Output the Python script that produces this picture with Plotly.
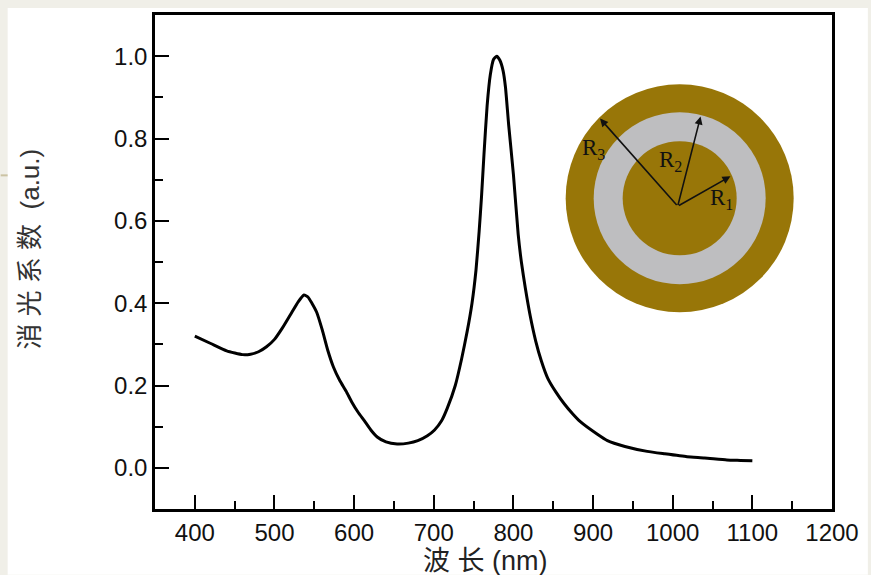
import plotly.graph_objects as go

# ---- data ----
wavelength = [400, 420, 440, 460, 470, 480, 490, 500, 510, 520, 530, 537, 542, 547,
              553, 560, 567, 574, 582, 590, 597, 605, 613, 621, 629, 640, 654, 668,
              680, 692, 701, 710, 717, 727, 735, 742, 748, 753, 757, 760, 763, 767,
              771, 775, 779, 783, 787, 790, 794, 800, 806, 810, 815, 821, 828, 835,
              843, 853, 864, 874, 884, 905, 918, 940, 968, 990, 1018, 1040, 1068,
              1085, 1100]
extinction = [0.320, 0.302, 0.284, 0.275, 0.276, 0.282, 0.294, 0.312, 0.340, 0.372,
              0.404, 0.420, 0.415, 0.400, 0.378, 0.335, 0.285, 0.245, 0.212, 0.186,
              0.160, 0.135, 0.114, 0.092, 0.075, 0.063, 0.058, 0.060, 0.066, 0.078,
              0.092, 0.115, 0.145, 0.200, 0.265, 0.332, 0.400, 0.480, 0.575, 0.660,
              0.760, 0.880, 0.955, 0.992, 1.000, 0.990, 0.965, 0.925, 0.834, 0.713,
              0.567, 0.500, 0.436, 0.370, 0.308, 0.260, 0.218, 0.185, 0.155, 0.132,
              0.112, 0.082, 0.066, 0.052, 0.040, 0.034, 0.027, 0.024, 0.019, 0.018,
              0.017]
x_ticks = [400, 500, 600, 700, 800, 900, 1000, 1100, 1200]
y_ticks = [0.0, 0.2, 0.4, 0.6, 0.8, 1.0]
x_title = "波 长 (nm)"
y_title = "消 光 系 数 \u00a0(a.u.)"

# ---- layout geometry (pixels) ----
W, H = 871, 575
L, R, T, B = 155, 835, 13, 509


def pp(x, y):
    return (x - L) / (R - L), (B - y) / (B - T)


fig = go.Figure()
fig.add_trace(go.Scatter(x=wavelength, y=extinction, mode="lines",
                         line=dict(color="black", width=3, shape="spline", smoothing=0.5),
                         showlegend=False, hoverinfo="skip"))

shapes = []
# white slide panel over beige background
x0, y0 = pp(7, 6)
x1, y1 = pp(871, 575)
shapes.append(dict(type="rect", xref="paper", yref="paper", x0=x0, x1=x1, y0=y1, y1=y0,
                   fillcolor="white", line=dict(width=0), layer="below"))
lx0, ly = pp(0, 174)
lx1, _ = pp(7, 174)
shapes.append(dict(type="line", xref="paper", yref="paper", x0=lx0, x1=lx1, y0=ly, y1=ly,
                   line=dict(color="#CBC3A3", width=2), layer="below"))

# inset: concentric circles
cx, cy = pp(682, 197)
for r, col in [(114, "#987608"), (86, "#BEBEC0"), (57, "#987608")]:
    shapes.append(dict(type="circle", xref="paper", yref="paper",
                       xsizemode="pixel", ysizemode="pixel", xanchor=cx, yanchor=cy,
                       x0=-r, x1=r, y0=-r, y1=r, fillcolor=col, line=dict(width=0)))

annotations = []
origin = (680, 205)
for tip in [(602, 117), (703, 115), (733, 175)]:
    ax_, ay_ = pp(*tip)
    annotations.append(dict(xref="paper", yref="paper", x=ax_, y=ay_, text="",
                            showarrow=True, arrowhead=2, arrowsize=1.0, arrowwidth=1.6,
                            arrowcolor="#111", ax=origin[0] - tip[0], ay=origin[1] - tip[1],
                            standoff=0))
for lab, pos in [("R<sub>3</sub>", (595, 148)), ("R<sub>2</sub>", (673, 160)),
                 ("R<sub>1</sub>", (724, 198))]:
    lx, lyy = pp(*pos)
    annotations.append(dict(xref="paper", yref="paper", x=lx, y=lyy, text=lab,
                            showarrow=False, xanchor="center", yanchor="middle",
                            font=dict(family="Liberation Serif, Times New Roman, serif",
                                      size=23, color="#111")))

# axis titles
tx, ty = pp(487, 561)
annotations.append(dict(xref="paper", yref="paper", x=tx, y=ty, text=x_title,
                        showarrow=False, xanchor="center", yanchor="middle",
                        font=dict(family="Liberation Sans, Arial, Noto Sans CJK SC",
                                  size=27, color="#222")))
tx, ty = pp(30, 248)
annotations.append(dict(xref="paper", yref="paper", x=tx, y=ty, text=y_title,
                        showarrow=False, xanchor="center", yanchor="middle", textangle=-90,
                        font=dict(family="Liberation Sans, Arial, Noto Sans CJK SC",
                                  size=26, color="#333")))

axis_common = dict(showgrid=False, zeroline=False, showline=True, linecolor="black",
                   linewidth=2.5, mirror=True, ticks="inside", ticklen=14, tickwidth=2,
                   tickcolor="black",
                   tickfont=dict(family="Liberation Sans, Arial", size=24, color="#111"))

fig.update_layout(
    width=W, height=H,
    margin=dict(l=L, r=W - R, t=T, b=H - B, pad=0),
    paper_bgcolor="#F0EFE8", plot_bgcolor="white",
    shapes=shapes, annotations=annotations,
    xaxis=dict(range=[350, 1200], tickvals=x_ticks,
               ticktext=[str(v) for v in x_ticks],
               minor=dict(ticks="inside", ticklen=8, tickwidth=2, tickcolor="black",
                          tickvals=[v + 50 for v in x_ticks[:-1]]),
               **axis_common),
    yaxis=dict(range=[-0.1, 1.1], tickvals=y_ticks,
               ticktext=[f"{v:.1f}" for v in y_ticks],
               minor=dict(ticks="inside", ticklen=8, tickwidth=2, tickcolor="black",
                          tickvals=[v + 0.1 for v in y_ticks[:-1]]),
               **axis_common),
)

fig.write_html("out.html")
